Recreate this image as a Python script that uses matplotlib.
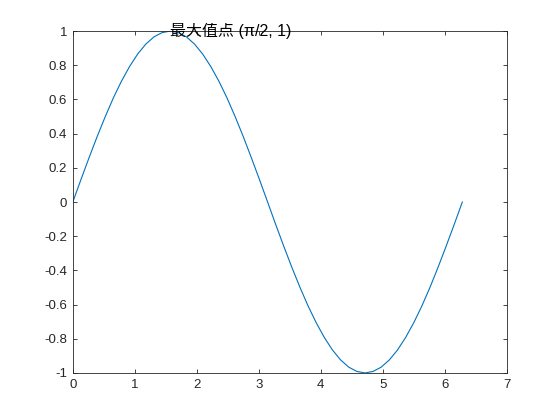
import matplotlib.pyplot as plt

x_vals = [0.000, 0.131, 0.262, 0.393, 0.524, 0.654, 0.785, 0.916, 1.047, 1.178,
          1.309, 1.440, 1.571, 1.702, 1.833, 1.963, 2.094, 2.225, 2.356, 2.487,
          2.618, 2.749, 2.880, 3.011, 3.142, 3.272, 3.403, 3.534, 3.665, 3.796,
          3.927, 4.058, 4.189, 4.320, 4.451, 4.581, 4.712, 4.843, 4.974, 5.105,
          5.236, 5.367, 5.498, 5.629, 5.760, 5.890, 6.021, 6.152, 6.283]
y_vals = [0.000, 0.131, 0.259, 0.383, 0.500, 0.609, 0.707, 0.793, 0.866, 0.924,
          0.966, 0.991, 1.000, 0.991, 0.966, 0.924, 0.866, 0.793, 0.707, 0.609,
          0.500, 0.383, 0.259, 0.131, 0.000, -0.131, -0.259, -0.383, -0.500, -0.609,
          -0.707, -0.793, -0.866, -0.924, -0.966, -0.991, -1.000, -0.991, -0.966, -0.924,
          -0.866, -0.793, -0.707, -0.609, -0.500, -0.383, -0.259, -0.131, 0.000]

x_ticks = [0, 1, 2, 3, 4, 5, 6, 7]
y_ticks = [-1, -0.8, -0.6, -0.4, -0.2, 0, 0.2, 0.4, 0.6, 0.8, 1]
y_labels = ['-1', '-0.8', '-0.6', '-0.4', '-0.2', '0', '0.2', '0.4', '0.6', '0.8', '1']

note_text = '最大值点 (π/2, 1)'
note_x = 1.5708
note_y = 1.0

plt.rcParams['font.family'] = ['Liberation Sans', 'Noto Sans CJK SC', 'DejaVu Sans']

fig = plt.figure(figsize=(5.6, 4.2), dpi=100)
ax = fig.add_axes([0.13, 0.112, 0.775, 0.814])

ax.plot(x_vals, y_vals, color='#0072BD', linewidth=0.8)
ax.text(note_x, note_y, note_text, fontsize=11.5, va='center', ha='left',
        color='#000000', family=['Liberation Sans', 'Noto Sans CJK SC', 'DejaVu Sans'])

ax.set_xlim(0, 7)
ax.set_ylim(-1, 1)
ax.set_xticks(x_ticks)
ax.set_yticks(y_ticks)
ax.set_yticklabels(y_labels)

ax.tick_params(direction='in', length=3, width=0.6, colors='#262626',
               labelsize=9.5, top=True, right=True, pad=4)
for s in ax.spines.values():
    s.set_color('#262626')
    s.set_linewidth(0.6)

fig.savefig('out.png', dpi=100)
